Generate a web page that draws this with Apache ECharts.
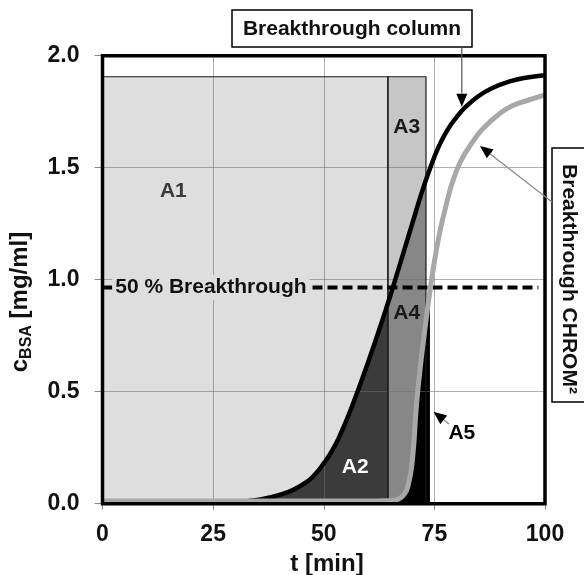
<!DOCTYPE html>
<html><head><meta charset="utf-8">
<script src="https://cdn.jsdelivr.net/npm/echarts@6/dist/echarts.min.js"></script>
<style>html,body{margin:0;padding:0;background:#fff}#c{width:584px;height:575px}</style>
</head><body><div id="c"></div>
<script>
// ---- data ----
const xTicks = [0, 25, 50, 75, 100];
const yTicks = [0.0, 0.5, 1.0, 1.5, 2.0];
// Breakthrough column (black curve)
const colT = [0, 20, 30, 33, 36, 40, 43, 46, 48, 50, 52, 54, 56, 58, 60, 62, 64, 66, 68, 70, 72, 74, 76, 78, 80, 82, 85, 88, 92, 96, 100];
const colC = [0.005, 0.005, 0.007, 0.012, 0.02, 0.039, 0.061, 0.095, 0.13, 0.18, 0.24, 0.32, 0.415, 0.52, 0.63, 0.745, 0.865, 0.99, 1.12, 1.25, 1.38, 1.495, 1.595, 1.67, 1.725, 1.77, 1.82, 1.855, 1.885, 1.903, 1.913];
// Breakthrough CHROM² (grey curve)
const chromT = [0, 20, 40, 60, 64, 66, 67, 68, 69, 70, 71, 72, 73, 74, 75, 76, 77, 78, 79, 81, 84, 86, 90, 93, 96, 100];
const chromC = [0.012, 0.012, 0.012, 0.012, 0.013, 0.016, 0.022, 0.038, 0.075, 0.19, 0.45, 0.64, 0.80, 0.95, 1.08, 1.19, 1.28, 1.36, 1.43, 1.53, 1.625, 1.675, 1.745, 1.78, 1.80, 1.825];
// area boundaries
const feedConc = 1.906;   // top of A1/A3 rectangles
const tSplit = 64.5;      // A1 | A3 boundary
const tA3End = 73.1;      // right edge of A3
const tA5End = 74.0;      // right edge of A5
const c50 = 0.965;        // 50 % breakthrough level
const dashEnd = 98.5;
// area labels
const areaNames = ['A1', 'A2', 'A3', 'A4', 'A5'];
const areaLabelT = [16.0, 57.1, 68.75, 68.75, 81.2];
const areaLabelC = [1.393, 0.163, 1.683, 0.85, 0.314];
const areaLabelColor = ['#3a3a3a', '#ffffff', '#1a1a1a', '#1a1a1a', '#000000'];

const FONT = '"Liberation Sans", Arial, Helvetica, sans-serif';
const SMOOTH = 0.5;

function interp(ts, cs, t) {
  for (let i = 0; i < ts.length - 1; i++) {
    if (t >= ts[i] && t <= ts[i + 1]) {
      const f = (t - ts[i]) / (ts[i + 1] - ts[i]);
      return cs[i] + f * (cs[i + 1] - cs[i]);
    }
  }
  return cs[cs.length - 1];
}
function clip(ts, cs, a, b) {
  const out = [[a, interp(ts, cs, a)]];
  for (let i = 0; i < ts.length; i++) if (ts[i] > a && ts[i] < b) out.push([ts[i], cs[i]]);
  out.push([b, interp(ts, cs, b)]);
  return out;
}
const zip = (ts, cs) => ts.map((t, i) => [t, cs[i]]);

const chart = echarts.init(document.getElementById('c'), null, { renderer: 'canvas' });

const rects = [[0, tSplit, feedConc, '#dedede'], [tSplit, tA3End, feedConc, '#c6c6c6']];

function rectSeries(fill, z) {
  return {
    type: 'custom', z: z, silent: true, clip: false,
    encode: { x: [0, 1], y: 2 },
    data: rects.map(r => [r[0], r[1], r[2]]),
    renderItem: function (params, api) {
      const p0 = api.coord([api.value(0), api.value(2)]);
      const p1 = api.coord([api.value(1), 0]);
      const style = fill ? { fill: rects[params.dataIndex][3], stroke: null }
                         : { fill: null, stroke: '#1a1a1a', lineWidth: 1.2 };
      return { type: 'rect', shape: { x: p0[0], y: p0[1], width: p1[0] - p0[0], height: p1[1] - p0[1] }, style: style };
    }
  };
}
function areaSeries(data, color, z) {
  return {
    type: 'line', z: z, data: data, showSymbol: false, symbol: 'none', silent: true,
    smooth: SMOOTH,
    lineStyle: { width: 0, opacity: 0 },
    areaStyle: { color: color, opacity: 1 }
  };
}

const axisLabelStyle = { fontSize: 23, fontWeight: 'bold', fontFamily: FONT, color: '#111' };
const splitStyle = { color: 'rgba(110,110,110,0.55)', width: 1 };

chart.setOption({
  animation: false,
  backgroundColor: '#ffffff',
  grid: { left: 102.5, top: 55.7, right: 39, bottom: 71.3, containLabel: false },
  xAxis: {
    type: 'value', min: xTicks[0], max: xTicks[xTicks.length - 1], interval: 25, z: 4,
    axisLine: { show: false },
    axisTick: { show: true, length: 6, lineStyle: { color: '#888', width: 1 } },
    axisLabel: Object.assign({ margin: 19 }, axisLabelStyle),
    splitLine: { show: true, lineStyle: splitStyle }
  },
  yAxis: {
    type: 'value', min: yTicks[0], max: yTicks[yTicks.length - 1], interval: 0.5, z: 4,
    axisLine: { show: false },
    axisTick: { show: true, length: 8, lineStyle: { color: '#888', width: 1 } },
    axisLabel: Object.assign({ margin: 23, formatter: v => v.toFixed(1) }, axisLabelStyle),
    splitLine: { show: true, lineStyle: splitStyle }
  },
  series: [
    rectSeries(true, 1),
    areaSeries(clip(colT, colC, 0, tSplit), '#3b3b3b', 2),
    areaSeries(clip(colT, colC, tSplit, tA3End), '#878787', 2),
    areaSeries(clip(chromT, chromC, tSplit, tA5End), '#000000', 3),
    rectSeries(false, 5),
    {
      type: 'line', z: 6, silent: true, showSymbol: false, symbol: 'none',
      data: [[xTicks[0], c50], [dashEnd, c50]],
      lineStyle: { color: '#000', width: 4, type: [10, 5] }
    },
    {
      type: 'line', z: 7, silent: true, showSymbol: false, symbol: 'none', smooth: SMOOTH,
      data: zip(colT, colC), lineStyle: { color: '#000', width: 4.5 }
    },
    {
      type: 'line', z: 8, silent: true, showSymbol: false, symbol: 'none', smooth: SMOOTH,
      data: zip(chromT, chromC), lineStyle: { color: '#a8a8a8', width: 5 }
    },
    {
      type: 'custom', z: 9, silent: true, clip: false, data: [[0, 0]],
      renderItem: function (params, api) {
        const cs = params.coordSys;
        return { type: 'rect', shape: { x: cs.x, y: cs.y, width: cs.width, height: cs.height },
                 style: { fill: null, stroke: '#000', lineWidth: 3.5 } };
      }
    }
  ]
});

// ---- annotations ----
const px = (t, c) => chart.convertToPixel({ gridIndex: 0 }, [t, c]);
function arrow(x1, y1, x2, y2, lineColor) {
  const ang = Math.atan2(y2 - y1, x2 - x1), L = 13, W = 5.5;
  const bx = x2 - L * Math.cos(ang), by = y2 - L * Math.sin(ang);
  const nx = -Math.sin(ang), ny = Math.cos(ang);
  return [
    { type: 'line', z: 30, shape: { x1: x1, y1: y1, x2: bx, y2: by }, style: { stroke: lineColor, lineWidth: 1.2 } },
    { type: 'polygon', z: 30, shape: { points: [[x2, y2], [bx + nx * W, by + ny * W], [bx - nx * W, by - ny * W]] }, style: { fill: '#000' } }
  ];
}
function txt(x, y, text, size, color, extra) {
  return {
    type: 'text', x: x, y: y, z: 40,
    style: Object.assign({ text: text, fontSize: size, fontWeight: 'bold', fontFamily: FONT, fill: color,
      align: 'center', verticalAlign: 'middle', textAlign: 'center', textVerticalAlign: 'middle' }, extra || {})
  };
}

const g = [];
areaNames.forEach((n, i) => {
  const p = px(areaLabelT[i], areaLabelC[i]);
  g.push(txt(p[0], p[1], n, 21, areaLabelColor[i]));
});
const p50 = px(24.5, c50);
g.push(txt(p50[0], p50[1], '50 % Breakthrough', 21, '#111', { backgroundColor: '#dedede', padding: [2, 3, 2, 3] }));

g.push({ type: 'rect', z: 30, shape: { x: 232, y: 10, width: 240, height: 37 }, style: { fill: '#fff', stroke: '#000', lineWidth: 1.5 } });
g.push(txt(352, 29, 'Breakthrough column', 21, '#111'));
const tipCol = px(81.2, 1.772);
g.push(...arrow(tipCol[0], 47, tipCol[0], tipCol[1], '#555'));

g.push({ type: 'rect', z: 30, shape: { x: 552, y: 148, width: 40, height: 254 }, style: { fill: '#fff', stroke: '#000', lineWidth: 1.5 } });
g.push(Object.assign(txt(569, 279, 'Breakthrough CHROM²', 21, '#111'), { rotation: -Math.PI / 2 }));
const tipChrom = px(85.3, 1.597);
g.push(...arrow(552, 202, tipChrom[0], tipChrom[1], '#888'));

const tipA5 = px(74.8, 0.41);
g.push(...arrow(449, 424, tipA5[0], tipA5[1], '#888'));

g.push(txt(327, 564, 't [min]', 24, '#111'));
g.push({
  type: 'text', x: 20, y: 302, z: 40, rotation: Math.PI / 2,
  style: {
    text: '{c|c}{s|BSA}{m| [mg/ml]}', align: 'center', verticalAlign: 'middle', textAlign: 'center', textVerticalAlign: 'middle',
    rich: {
      c: { fontSize: 24, fontWeight: 'bold', fontFamily: FONT, fill: '#111', lineHeight: 30 },
      s: { fontSize: 16, fontWeight: 'bold', fontFamily: FONT, fill: '#111', lineHeight: 16, verticalAlign: 'bottom' },
      m: { fontSize: 24, fontWeight: 'bold', fontFamily: FONT, fill: '#111', lineHeight: 30 }
    }
  }
});

chart.setOption({ graphic: { elements: g } });
</script>
</body></html>
